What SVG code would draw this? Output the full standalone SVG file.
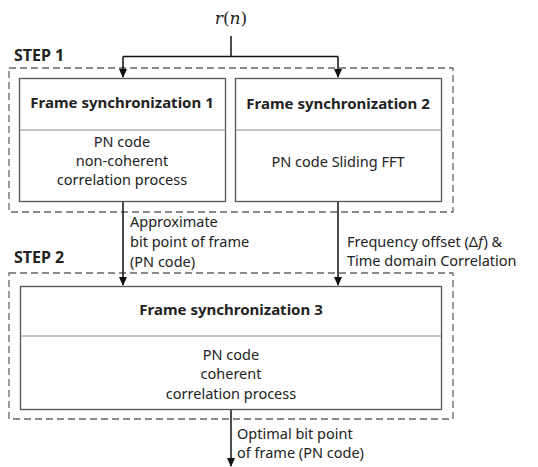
<svg xmlns="http://www.w3.org/2000/svg" width="538" height="467" viewBox="0 0 538 467">
<style>
.t{font-family:"Noto Sans","Open Sans",sans-serif;font-size:14.5px;fill:#222}
.b{font-weight:bold;font-size:15px}
.box{fill:#fff;stroke:#555;stroke-width:1.3}
.div{stroke:#888;stroke-width:1}
.dash{fill:none;stroke:#666;stroke-width:1.3;stroke-dasharray:7 4}
.c{stroke:#111;stroke-width:1.5;fill:none}
</style>
<defs>
<marker id="ah" markerWidth="10" markerHeight="10" refX="8" refY="5" orient="auto" markerUnits="userSpaceOnUse">
<path d="M0,1 L9,5 L0,9 Z" fill="#111"/>
</marker>
</defs>
<rect width="538" height="467" fill="#fff"/>
<g id="step1">
<rect class="dash" x="9" y="68" width="444" height="144"/>
<text class="t b" x="14" y="61" style="font-size:16px">STEP 1</text>
</g>
<g id="step2">
<rect class="dash" x="9" y="273" width="444" height="146"/>
<text class="t b" x="14" y="263" style="font-size:16px">STEP 2</text>
</g>
<g id="fs1">
<rect class="box" x="19.5" y="78.5" width="206" height="123"/>
<line class="div" x1="19.5" y1="130" x2="225.5" y2="130"/>
<text class="t b" x="122" y="108" text-anchor="middle">Frame synchronization 1</text>
<text class="t" x="122" y="147" text-anchor="middle">PN code</text>
<text class="t" x="122" y="166" text-anchor="middle">non-coherent</text>
<text class="t" x="122" y="185" text-anchor="middle">correlation process</text>
</g>
<g id="fs2">
<rect class="box" x="235.5" y="78.5" width="206" height="123"/>
<line class="div" x1="235.5" y1="130" x2="441.5" y2="130"/>
<text class="t b" x="338" y="109" text-anchor="middle">Frame synchronization 2</text>
<text class="t" x="338" y="167" text-anchor="middle">PN code Sliding FFT</text>
</g>
<g id="fs3">
<rect class="box" x="20.5" y="286.5" width="421" height="123"/>
<line class="div" x1="20.5" y1="336" x2="441.5" y2="336"/>
<text class="t b" x="231" y="315" text-anchor="middle">Frame synchronization 3</text>
<text class="t" x="231" y="360" text-anchor="middle">PN code</text>
<text class="t" x="231" y="379" text-anchor="middle">coherent</text>
<text class="t" x="231" y="399" text-anchor="middle">correlation process</text>
</g>
<g id="input">
<text x="231" y="24" text-anchor="middle" style="font-family:'DejaVu Serif','Liberation Serif',serif;font-size:17px;fill:#222"><tspan font-style="italic">r</tspan>(<tspan font-style="italic">n</tspan>)</text>
</g>
<g id="connectors">
<path class="c" d="M231,36 V56.5 M123,56.5 H338"/>
<path class="c" d="M123,56.5 V77" marker-end="url(#ah)"/>
<path class="c" d="M338,56.5 V77" marker-end="url(#ah)"/>
<path class="c" d="M123,202 V285" marker-end="url(#ah)"/>
<path class="c" d="M338,202 V285" marker-end="url(#ah)"/>
<path class="c" d="M231,410 V466" marker-end="url(#ah)"/>
</g>
<g id="labels">
<text class="t" x="130" y="227">Approximate</text>
<text class="t" x="130" y="247">bit point of frame</text>
<text class="t" x="130" y="267">(PN code)</text>
<text class="t" x="347" y="247">Frequency offset (Δ<tspan font-style="italic" style="font-family:'DejaVu Serif',serif">f</tspan>) &amp;</text>
<text class="t" x="347" y="266">Time domain Correlation</text>
<text class="t" x="237" y="439">Optimal bit point</text>
<text class="t" x="237" y="458">of frame (PN code)</text>
</g>
</svg>
